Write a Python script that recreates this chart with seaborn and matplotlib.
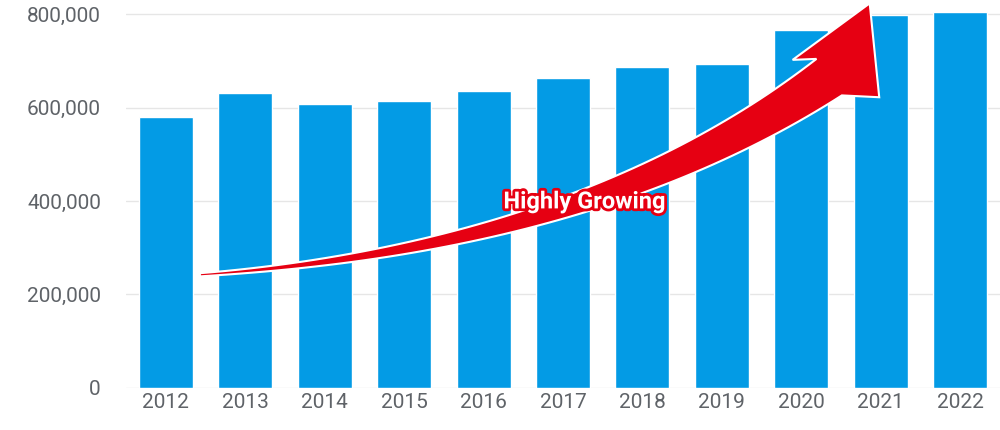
import matplotlib
matplotlib.use('Agg')
import matplotlib.pyplot as plt
import matplotlib.patheffects as pe
from matplotlib.patches import Polygon
import numpy as np
import pandas as pd
import seaborn as sns

years = ['2012', '2013', '2014', '2015', '2016', '2017', '2018', '2019', '2020', '2021', '2022']
values = [580000, 631000, 607000, 615000, 635000, 663000, 687000, 693000, 766000, 798000, 804000]
y_ticks = [0, 200000, 400000, 600000, 800000]
label = 'Highly Growing'

sns.set(style='white')
plt.rcParams['font.family'] = 'Roboto'

fig = plt.figure(figsize=(10, 4.3), dpi=100)
ax = fig.add_axes([0.126, 0.098, 0.874, 0.891])
df = pd.DataFrame({'year': years, 'value': values})
sns.barplot(data=df, x='year', y='value', color='#039be5', saturation=1, width=0.68, ax=ax)

ax.set_xlim(-0.5, 10.5)
ax.set_ylim(0, 820000)
ax.set_yticks(y_ticks)
ax.set_yticklabels(['{:,}'.format(v) for v in y_ticks])
ax.yaxis.grid(True, color='#e6e6e6', linewidth=1)
ax.set_axisbelow(True)
for s in ax.spines.values():
    s.set_visible(False)
ax.tick_params(axis='both', length=0, labelsize=15, labelcolor='#5f6368')
ax.tick_params(axis='y', pad=18)
ax.set_xlabel('')
ax.set_ylabel('')

# curved arrow, worked in units where 1 index == 170k
k = 170000.0
p0 = np.array([0.43, 242000 / k])
p1 = np.array([5.3, 300000 / k])
p2 = np.array([8.35, 665000 / k])
t = np.linspace(0, 1, 60)
curve = ((1 - t) ** 2)[:, None] * p0 + (2 * (1 - t) * t)[:, None] * p1 + (t ** 2)[:, None] * p2
d = np.gradient(curve, axis=0)
d /= np.linalg.norm(d, axis=1)[:, None]
n = np.stack([-d[:, 1], d[:, 0]], axis=1)
w = 0.02 + 0.26 * t ** 1.3
upper = curve + n * w[:, None]
lower = curve - n * w[:, None]
hb_up = np.array([7.89, 702000 / k])
hb_lo = np.array([8.98, 622000 / k])
tip = np.array([8.86, 823000 / k])
pts = np.vstack([upper, hb_up, tip, hb_lo, lower[::-1]])
pts[:, 1] *= k
arrow = Polygon(pts, closed=True, facecolor='#e60012', edgecolor='white', linewidth=1.5,
                clip_on=False, zorder=5)
ax.add_patch(arrow)

ax.text(5.27, 398000, label, color='white', fontsize=17, fontweight='bold', ha='center',
        va='center', zorder=6,
        path_effects=[pe.withStroke(linewidth=4, foreground='#e60012')])

plt.savefig('out.png', dpi=100)
